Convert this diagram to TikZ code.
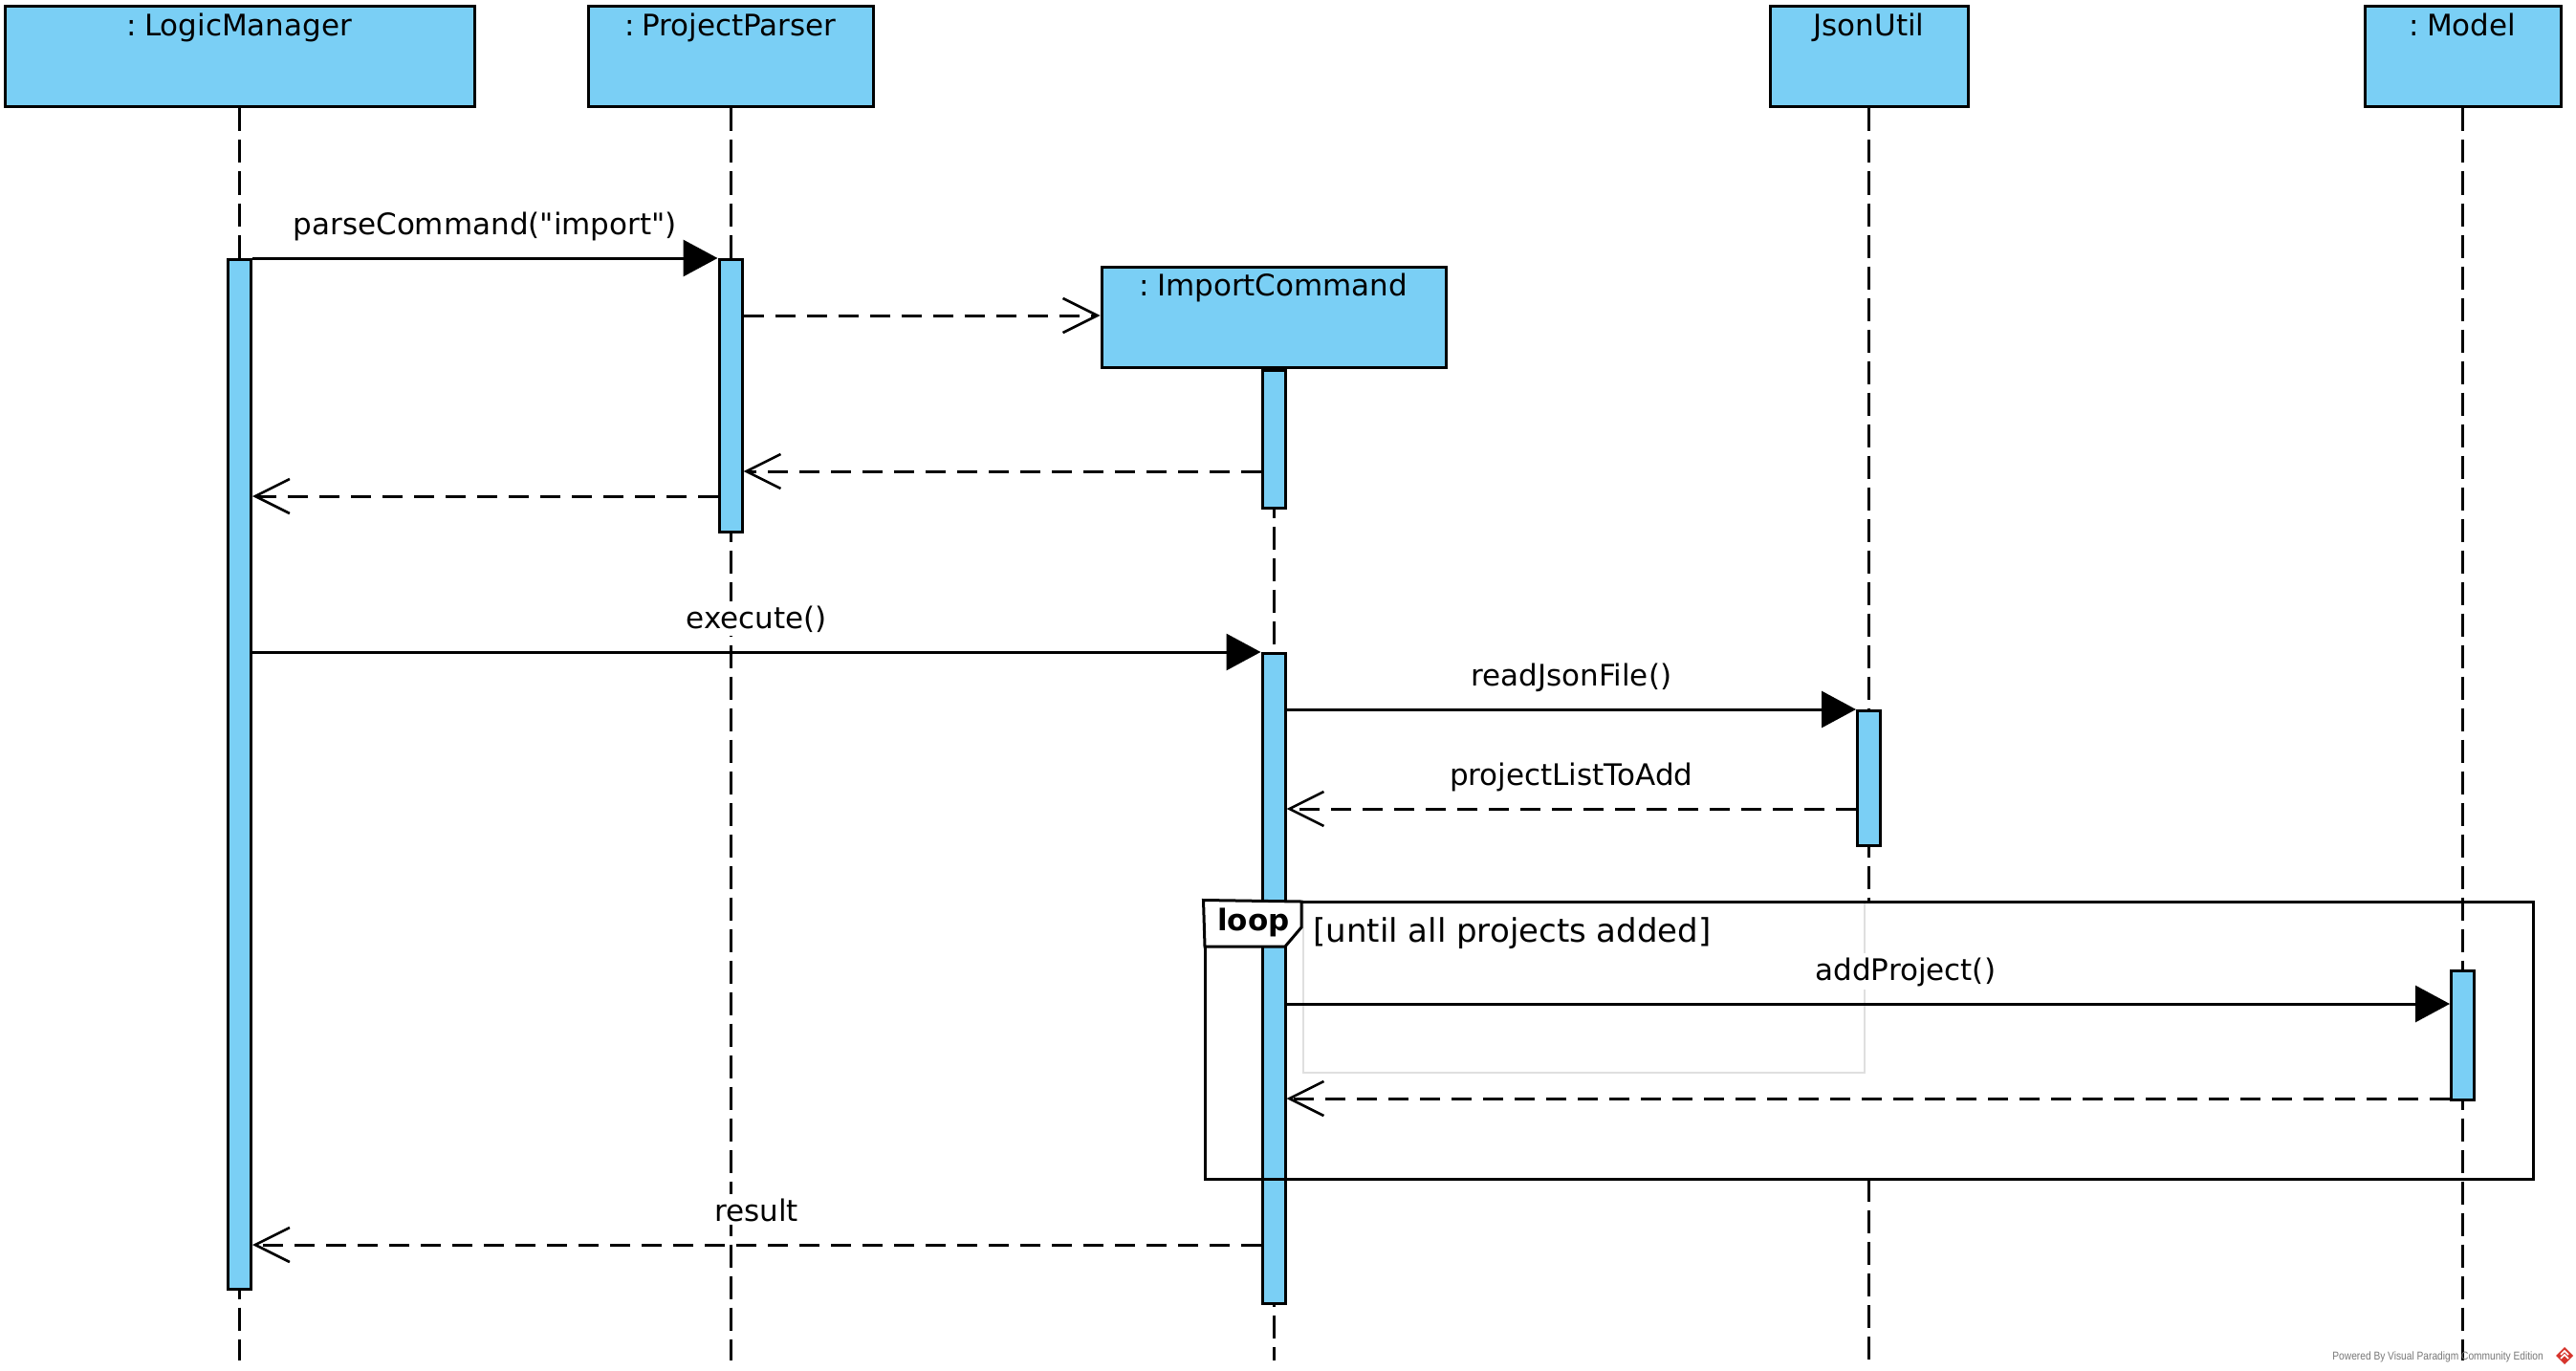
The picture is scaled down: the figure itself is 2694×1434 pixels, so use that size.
\documentclass[tikz,border=0pt]{standalone}
\usepackage{fontspec}
\setmainfont{DejaVu Sans}[Ligatures=TeXOff]
\newfontfamily\wmfont[FakeStretch=0.85]{Liberation Sans}
\usetikzlibrary{arrows.meta,fit}
\definecolor{vpblue}{RGB}{122,207,245}
\definecolor{wmgray}{RGB}{120,120,120}
\definecolor{vpred}{RGB}{214,52,44}
\newcommand{\colsp}{:\hspace{0.25em}}

\begin{document}
\begin{tikzpicture}[x=0.5pt,y=-0.5pt,
  every node/.style={font=\fontsize{15.5}{18}\selectfont},
  lw/.style={line width=1.5pt},
  header/.style={draw, lw, fill=vpblue, inner sep=0, minimum height=52.5pt},
  hlabel/.style={anchor=base, yshift=-16pt, inner sep=0},
  lifeline/.style={lw, dash pattern=on 12pt off 4.5pt},
  actbar/.style={draw, lw, fill=vpblue, inner sep=0, minimum width=12pt, anchor=north},
  sync/.style={lw, -{Triangle[length=18pt,width=19pt]}},
  reply/.style={lw, dash pattern=on 10.5pt off 6pt,
    -{Straight Barb[length=18pt,width=18pt,line width=1.3pt]}},
  msglabel/.style={anchor=base, fill=white, inner sep=2pt, yshift=12.5pt},
]
% canvas
\fill[white] (0,0) rectangle (2694,1434);
\useasboundingbox (0,0) rectangle (2694,1434);

% participants
\node[header, minimum width=245.5pt, label={[hlabel]north:{\colsp LogicManager}}] (lm) at (250.5,59.5) {};
\node[header, minimum width=149pt, label={[hlabel]north:{\colsp ProjectParser}}] (pp) at (764,59.5) {};
\node[header, minimum width=103.5pt, label={[hlabel]north:{JsonUtil}}] (ju) at (1954.5,59.5) {};
\node[header, minimum width=102.5pt, label={[hlabel]north:{\colsp Model}}] (md) at (2575.5,59.5) {};
\node[header, minimum width=180pt, label={[hlabel]north:{\colsp ImportCommand}}] (ic) at (1332,331.5) {};

% reference levels
\coordinate (bot) at (0,1423);
\coordinate (frTL) at (1260,943);
\coordinate (frBR) at (2649,1233);
\coordinate (yParse) at (0,270);
\coordinate (yCreate) at (0,330);
\coordinate (yRetA) at (0,493);
\coordinate (yRetB) at (0,519);
\coordinate (yExec) at (0,682);
\coordinate (yRead) at (0,742);
\coordinate (yList) at (0,846);
\coordinate (yAdd) at (0,1050);
\coordinate (yAddRet) at (0,1149);
\coordinate (yRes) at (0,1302);

% lifelines
\draw[lifeline] (lm.south) -- (lm.south |- bot);
\draw[lifeline] (pp.south) -- (pp.south |- bot);
\draw[lifeline] (ic.south) -- (ic.south |- bot);
\draw[lifeline] (ju.south) -- (ju.south |- frTL);
\draw[lifeline] (ju.south |- frBR) -- (ju.south |- bot);
\draw[lifeline] (md.south) -- (md.south |- bot);

% faint inner region of the loop
\draw[gray!25, line width=0.6pt] (1363,943) rectangle (1950,1122);

% activation bars
\node[actbar, minimum height=538.5pt] (lmbar) at (250.5,270) {};
\node[actbar, minimum height=142.5pt] (ppbar) at (764,270) {};
\node[actbar, minimum height=72pt] (icbarA) at (ic.south) {};
\node[actbar, minimum height=340pt] (icbarB) at (1332,682) {};
\node[actbar, minimum height=70.5pt] (jubar) at (1954.5,742) {};
\node[actbar, minimum height=67.5pt] (mdbar) at (2575.5,1014) {};

% messages
\draw[sync] (lmbar.east |- yParse) -- node[msglabel]{parseCommand("import")} (ppbar.west |- yParse);
\draw[reply] (ppbar.east |- yCreate) -- (ic.west |- yCreate);
\draw[reply] (icbarA.west |- yRetA) -- (ppbar.east |- yRetA);
\draw[reply] (ppbar.west |- yRetB) -- (lmbar.east |- yRetB);
\draw[sync] (lmbar.east |- yExec) -- node[msglabel]{execute()} (icbarB.west |- yExec);
\draw[sync] (icbarB.east |- yRead) -- node[msglabel]{readJsonFile()} (jubar.west |- yRead);
\draw[reply] (jubar.west |- yList) -- node[msglabel]{projectListToAdd} (icbarB.east |- yList);
\draw[sync] (icbarB.east |- yAdd) -- node[msglabel, xshift=19.5pt]{addProject()} (mdbar.west |- yAdd);
\draw[reply] (mdbar.west |- yAddRet) -- (icbarB.east |- yAddRet);
\draw[reply] (icbarB.west |- yRes) -- node[msglabel]{result} (lmbar.east |- yRes);

% loop combined fragment
\node[draw, lw, inner sep=0, fit=(frTL)(frBR)] (loopf) {};
\draw[lw, fill=white] (loopf.north west) -- (1361,943) -- (1361,970) -- (1344,990) -- (1260,990) -- cycle;
\node[font=\bfseries\fontsize{15.5}{18}\selectfont, anchor=base, inner sep=0] (looptag) at (1311,973) {loop};
\node[font=\fontsize{17}{20}\selectfont, anchor=base west, inner sep=0] (guard) at (1373,985) {[until all projects added]};

% footer
\node[font=\wmfont\fontsize{6}{7}\selectfont, text=wmgray, anchor=base west, inner sep=0] (wm) at (2439,1422) {Powered By Visual Paradigm Community Edition};
\fill[vpred] (2682,1409) -- (2691,1418) -- (2682,1427) -- (2673,1418) -- cycle;
\draw[white, line width=0.8pt] (2678,1417) -- (2682,1413) -- (2686,1417) (2678,1421) -- (2682,1417) -- (2686,1421);
\end{tikzpicture}
\end{document}
